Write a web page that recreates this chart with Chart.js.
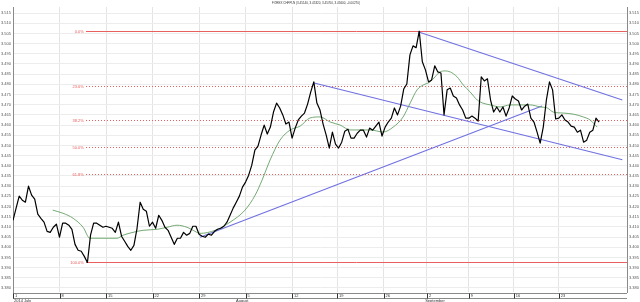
<!DOCTYPE html>
<html>
<head>
<meta charset="utf-8">
<script src="https://cdn.jsdelivr.net/npm/chart.js@4.4.1/dist/chart.umd.min.js"></script>
<style>
  html, body { margin: 0; padding: 0; background: #fff; }
</style>
</head>
<body>
<canvas id="chart" width="640" height="302"></canvas>
<script>
// CHF/PLN, 8-hour bars from 1 July 2014 (bar index on the x axis)
const closes = [
    3.4132, 3.4192, 3.4251, 3.4231, 3.4221, 3.4300, 3.4256, 3.4236, 3.4162, 3.4142,
    3.4123, 3.4078, 3.4073, 3.4098, 3.4113, 3.4049, 3.4118, 3.4118, 3.4108, 3.4088,
    3.4014, 3.3985, 3.3980, 3.3955, 3.3925, 3.4059, 3.4118, 3.4118, 3.4108, 3.4098,
    3.4103, 3.4098, 3.4093, 3.4073, 3.4123, 3.4054, 3.4029, 3.4004, 3.3985, 3.4009,
    3.4093, 3.4221, 3.4187, 3.4177, 3.4103, 3.4123, 3.4093, 3.4157, 3.4132, 3.4098,
    3.4083, 3.4049, 3.4014, 3.4044, 3.4044, 3.4073, 3.4059, 3.4068, 3.4103, 3.4103,
    3.4064, 3.4054, 3.4049, 3.4064, 3.4059, 3.4078, 3.4088, 3.4093, 3.4103, 3.4123,
    3.4157, 3.4192, 3.4221, 3.4251, 3.4295, 3.4320, 3.4354, 3.4403, 3.4477, 3.4497,
    3.4551, 3.4600, 3.4556, 3.4590, 3.4664, 3.4708, 3.4684, 3.4650, 3.4605, 3.4615,
    3.4536, 3.4585, 3.4625, 3.4644, 3.4659, 3.4703, 3.4762, 3.4812, 3.4708, 3.4674,
    3.4605, 3.4551, 3.4487, 3.4565, 3.4506, 3.4487, 3.4516, 3.4570, 3.4580, 3.4536,
    3.4536, 3.4560, 3.4575, 3.4575, 3.4541, 3.4585, 3.4575, 3.4595, 3.4615, 3.4546,
    3.4590, 3.4615, 3.4634, 3.4684, 3.4650, 3.4693, 3.4777, 3.4802, 3.4945, 3.4989,
    3.4980, 3.5061, 3.4911, 3.4871, 3.4812, 3.4822, 3.4891, 3.4861, 3.4856, 3.4650,
    3.4773, 3.4782, 3.4743, 3.4733, 3.4699, 3.4674, 3.4634, 3.4634, 3.4644, 3.4634,
    3.4620, 3.4837, 3.4817, 3.4827, 3.4723, 3.4664, 3.4689, 3.4664, 3.4689, 3.4644,
    3.4684, 3.4743, 3.4728, 3.4718, 3.4674, 3.4693, 3.4703, 3.4634, 3.4615, 3.4565,
    3.4511, 3.4590, 3.4723, 3.4812, 3.4773, 3.4630, 3.4634, 3.4650, 3.4625, 3.4615,
    3.4595, 3.4590, 3.4565, 3.4575, 3.4516, 3.4526, 3.4565, 3.4575, 3.4634, 3.4615
];

// moving average
const maBars = [12.8, 16.1, 19.4, 22.6, 24.8, 25.8, 33.5, 35.5, 38.7, 41.9, 46.5, 49.7, 52.9, 56.1, 58.1,
    60.3, 65.2, 70, 74.8, 78.1, 80.3, 82.9, 86.1, 89.4, 92.6, 95.8, 99, 102.3, 105.5, 108.7,
    111.9, 115.2, 119.4, 122.6, 125.8, 128.1, 130.3, 132.3, 134.5, 136.1, 137.7, 139.4, 141, 143.2, 145.2,
    147.4, 149.7, 151.3, 153.9, 157.1, 160.3, 163.5, 166.8, 170, 172.3, 174.2, 177.4, 180.6, 183.9, 186.1, 188.4];
const maValues = [3.4182, 3.4167, 3.4142, 3.4098, 3.4044, 3.4044, 3.4044, 3.4059, 3.4073, 3.4083, 3.4088, 3.4098, 3.4108, 3.4098, 3.4083,
    3.4068, 3.4083, 3.4123, 3.4182, 3.4256, 3.4329, 3.4428, 3.4526, 3.4576, 3.4595, 3.4635, 3.4640, 3.4615, 3.4600, 3.4576,
    3.4576, 3.4576, 3.4566, 3.4590, 3.4640, 3.4709, 3.4773, 3.4797, 3.4812, 3.4837, 3.4861, 3.4866, 3.4861, 3.4837, 3.4797,
    3.4763, 3.4723, 3.4709, 3.4699, 3.4689, 3.4699, 3.4699, 3.4699, 3.4689, 3.4684, 3.4664, 3.4659, 3.4654, 3.4640, 3.4625, 3.4590];

// hand-drawn trend lines: [bar, price] -> [bar, price]
const trendLines = [
    [[60.3, 3.4049], [170.6, 3.4694]],
    [[130.6, 3.5058], [196.5, 3.4723]],
    [[96.8, 3.4808], [196.5, 3.4430]]
];

// Fibonacci retracement between the July low and the August high
const fibLabels = ['0.0%', '23.6%', '38.2%', '50.0%', '61.8%', '100.0%'];
const fibLevels = [3.5061, 3.4793, 3.4627, 3.4493, 3.4359, 3.3925];
const fibStartBar = 23.5;

const yTicks = [3.380, 3.385, 3.390, 3.395, 3.400, 3.405, 3.410, 3.415, 3.420, 3.425, 3.430, 3.435, 3.440,
    3.445, 3.450, 3.455, 3.460, 3.465, 3.470, 3.475, 3.480, 3.485, 3.490, 3.495, 3.500, 3.505, 3.510, 3.515];
const weekTickBars = [0, 15, 30, 45, 60, 75, 90, 104.5, 119.5, 133.5, 147, 161.5, 176];
const weekTickLabels = ['1', '8', '15', '22', '29', '5', '12', '19', '26', '2', '9', '16', '23'];
const monthBars = [0, 3.2, 71.6, 132.6];
const monthLabels = ['2014', 'July', 'August', 'September'];

const titleText = 'FOREX CHFPLN (3.45140, 3.45320, 3.45700, 3.45600, -0.00270)';

const X_MAX = 198;
const FONT = '"Liberation Sans", Arial, sans-serif';
const fibColor = 'rgb(232, 96, 96)';

function buildDatasets() {
    const sets = [];
    sets.push({
        data: closes.map((v, i) => ({ x: i, y: v })),
        borderColor: '#000',
        borderWidth: 1.2
    });
    sets.push({
        data: maBars.map((b, i) => ({ x: b, y: maValues[i] })),
        borderColor: 'rgb(100, 160, 100)',
        borderWidth: 0.9,
        cubicInterpolationMode: 'monotone'
    });
    trendLines.forEach(t => {
        sets.push({
            data: t.map(p => ({ x: p[0], y: p[1] })),
            borderColor: 'rgb(112, 112, 226)',
            borderWidth: 1.1
        });
    });
    return sets;
}

// fib levels are drawn under the datasets, snapped to whole pixels so the dots stay crisp
const fibPlugin = {
    id: 'fib',
    beforeDatasetsDraw(chart) {
        const { ctx, chartArea, scales } = chart;
        const x = scales.x, y = scales.y;
        const x0 = Math.round(x.getPixelForValue(fibStartBar));
        ctx.save();
        ctx.strokeStyle = fibColor;
        ctx.lineWidth = 1;
        fibLevels.forEach((v, k) => {
            const py = Math.round(y.getPixelForValue(v)) + 0.5;
            const solid = k === 0 || k === fibLevels.length - 1;
            ctx.setLineDash(solid ? [] : [1, 2]);
            ctx.beginPath();
            ctx.moveTo(x0, py);
            ctx.lineTo(chartArea.right, py);
            ctx.stroke();
        });
        ctx.restore();
    }
};

const overlay = {
    id: 'overlay',
    afterDraw(chart) {
        const { ctx, chartArea, scales } = chart;
        const x = scales.x, y = scales.y;
        ctx.save();

        // title
        ctx.font = '3px ' + FONT;
        ctx.fillStyle = '#333';
        ctx.textAlign = 'center';
        ctx.textBaseline = 'middle';
        ctx.fillText(titleText, 316, 3.5);

        // fib labels
        ctx.font = '4px ' + FONT;
        ctx.fillStyle = fibColor;
        ctx.textAlign = 'right';
        fibLevels.forEach((v, k) => {
            ctx.fillText(fibLabels[k], x.getPixelForValue(fibStartBar) - 2, Math.round(y.getPixelForValue(v)) + 0.5);
        });

        // time band under the plot
        const top = chartArea.bottom + 1.5, bot = chartArea.bottom + 6.5;
        ctx.strokeStyle = '#8a8a8a';
        ctx.lineWidth = 1;
        ctx.beginPath();
        ctx.moveTo(chartArea.left, top); ctx.lineTo(chartArea.right, top);
        ctx.moveTo(chartArea.left, bot); ctx.lineTo(chartArea.right, bot);
        ctx.stroke();
        ctx.strokeStyle = '#333';
        ctx.beginPath();
        weekTickBars.forEach(b => {
            const px = Math.round(x.getPixelForValue(b)) + 0.5;
            ctx.moveTo(px, top); ctx.lineTo(px, bot);
        });
        ctx.stroke();
        ctx.font = '4px ' + FONT;
        ctx.fillStyle = '#333';
        ctx.textAlign = 'left';
        ctx.textBaseline = 'middle';
        weekTickBars.forEach((b, k) => {
            ctx.fillText(weekTickLabels[k], x.getPixelForValue(b) + 2, (top + bot) / 2);
        });
        monthLabels.forEach((m, k) => {
            ctx.fillText(m, x.getPixelForValue(monthBars[k]) + 1, bot + 2.5);
        });
        ctx.restore();
    }
};

function yAxis(position) {
    return {
        type: 'linear',
        position: position,
        min: 3.378,
        max: 3.518,
        afterBuildTicks: s => { s.ticks = yTicks.map(v => ({ value: v })); },
        afterFit: s => { s.width = 13; },
        grid: {
            display: position === 'left',
            color: '#ececec',
            lineWidth: 1,
            drawTicks: false
        },
        border: { display: true, color: '#8a8a8a' },
        ticks: {
            font: { size: 4, family: FONT },
            color: '#555',
            padding: 2,
            callback: v => v.toFixed(3)
        }
    };
}

new Chart(document.getElementById('chart').getContext('2d'), {
    type: 'line',
    data: { datasets: buildDatasets() },
    options: {
        responsive: false,
        animation: false,
        devicePixelRatio: 1,
        layout: { padding: { top: 7, left: 0, right: 0, bottom: 0 } },
        elements: {
            point: { radius: 0 },
            line: { tension: 0, fill: false, borderJoinStyle: 'round' }
        },
        plugins: {
            legend: { display: false },
            title: { display: false },
            tooltip: { enabled: false }
        },
        scales: {
            x: {
                type: 'linear',
                min: 0,
                max: X_MAX,
                afterBuildTicks: s => { s.ticks = weekTickBars.map(v => ({ value: v })); },
                afterFit: s => { s.height = 10; },
                grid: { color: '#e4e4e4', drawTicks: false },
                border: { display: false },
                ticks: { display: false }
            },
            y: yAxis('left'),
            y2: yAxis('right')
        }
    },
    plugins: [fibPlugin, overlay]
});
</script>
</body>
</html>
